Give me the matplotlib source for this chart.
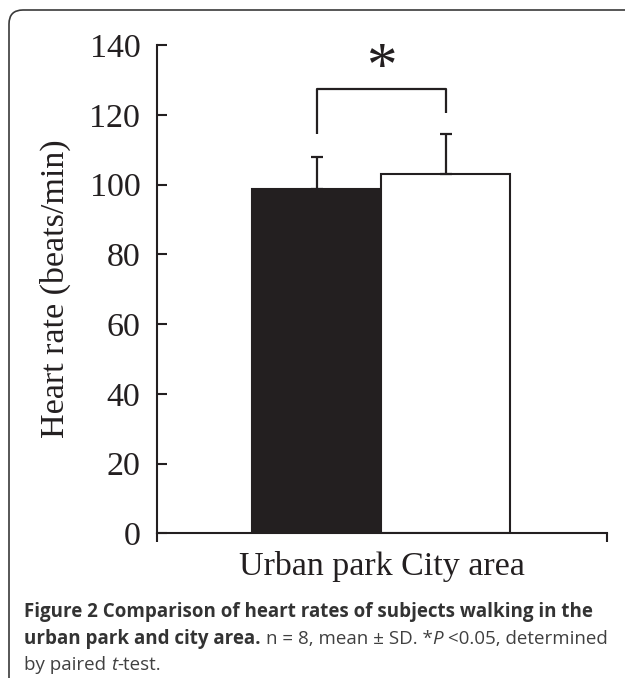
import matplotlib
matplotlib.use("Agg")
import matplotlib.pyplot as plt
from matplotlib.patches import FancyBboxPatch
from matplotlib.transforms import IdentityTransform

# data
categories = ["Urban park", "City area"]
means = [98.7, 103.0]
sd_upper = [9.3, 11.4]
bar_colors = ["#231f20", "white"]
yticks = [0, 20, 40, 60, 80, 100, 120, 140]
bracket_left = 114.5
bracket_right = 120.5
bracket_top = 127.4
star_y = 133.0

INK = "#231f20"
W, H = 625, 678

fig = plt.figure(figsize=(W / 100, H / 100), dpi=100)
plt.rcParams["font.family"] = ["Liberation Serif", "DejaVu Serif"]

# plot area in pixels: spine x 157..607, y 533 (0) .. 45 (140)
ax = fig.add_axes([157 / W, (H - 533.3) / H, 450 / W, 488.3 / H])
x = [0, 1]
ax.bar(x, means, width=1.0, color=bar_colors, edgecolor=INK, linewidth=1.5, zorder=2)
ax.errorbar(x, means, yerr=[[0, 0], sd_upper], fmt="none", ecolor=INK,
            elinewidth=1.6, capsize=4.3, capthick=1.6, zorder=3)

# significance bracket
ax.plot([x[0], x[0], x[1], x[1]], [bracket_left, bracket_top, bracket_top, bracket_right],
        color=INK, lw=1.6, solid_capstyle="butt", zorder=3)
ax.text(0.5, star_y, "*", ha="center", va="center", fontsize=44, color=INK,
        fontfamily="Liberation Serif")

ax.set_xlim(-1.24, 2.25)
ax.set_ylim(0, 140)
ax.set_yticks(yticks)
ax.tick_params(axis="y", direction="in", length=7.2, width=1.5, pad=12,
               labelsize=24.5, colors=INK)
ax.set_xticks([-1.24, 2.25])
ax.set_xticklabels([])
ax.tick_params(axis="x", direction="out", length=6.5, width=1.5, colors=INK)
for side in ["top", "right"]:
    ax.spines[side].set_visible(False)
for side in ["left", "bottom"]:
    ax.spines[side].set_linewidth(1.5)
    ax.spines[side].set_color(INK)

fig.text(55 / W, (H - 289) / H, "Heart rate (beats/min)", rotation=90,
         ha="center", va="center", fontsize=24.5, color=INK)
fig.text(382 / W, (H - 575) / H, " ".join(categories), ha="center",
         va="baseline", fontsize=24.5, color=INK)

# rounded frame around the figure panel
frame = FancyBboxPatch((9, -30), 640, 668 + 30, boxstyle="round,pad=0,rounding_size=14",
                       transform=IdentityTransform(), facecolor="none",
                       edgecolor="#3a3a3a", linewidth=1.2)
fig.patches.append(frame)

# caption, placed run by run
renderer = fig.canvas.get_renderer()


def put_runs(x0, y0, runs):
    xf = x0 / W
    for s, weight, style, color in runs:
        t = fig.text(xf, (H - y0) / H, s, fontsize=13.5, fontfamily=["Open Sans", "DejaVu Sans"],
                     fontweight=weight, fontstyle=style, color=color, va="baseline")
        bb = t.get_window_extent(renderer=renderer)
        xf = bb.x1 / W


BOLD = "#333333"
REG = "#404040"
put_runs(24, 617, [("Figure 2 Comparison of heart rates of subjects walking in the", "bold", "normal", BOLD)])
put_runs(24, 644, [("urban park and city area. ", "bold", "normal", BOLD),
                   ("n = 8, mean \u00b1 SD. *", "normal", "normal", REG),
                   ("P", "normal", "italic", REG),
                   (" <0.05, determined", "normal", "normal", REG)])
put_runs(24, 670, [("by paired ", "normal", "normal", REG),
                   ("t", "normal", "italic", REG),
                   ("-test.", "normal", "normal", REG)])

fig.savefig("out.png", dpi=100)
